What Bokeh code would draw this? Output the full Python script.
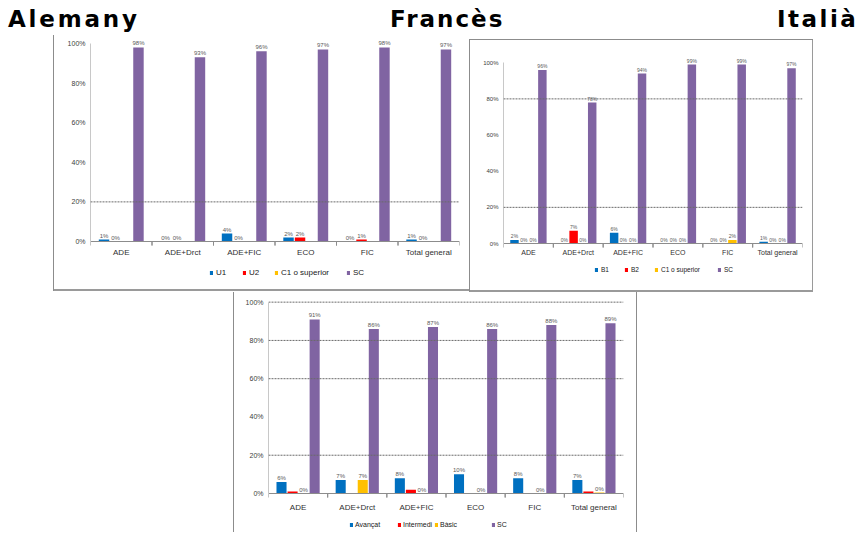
import numpy as np
from bokeh.plotting import figure
from bokeh.models import (FactorRange, ColumnDataSource, Span, Legend, LegendItem,
                          FixedTicker, PrintfTickFormatter, Div, Spacer)
from bokeh.layouts import column, row
from bokeh.transform import dodge
from bokeh.embed import file_html
from bokeh.resources import INLINE
from bokeh.core.properties import value

# ---------------- data ----------------
CATEGORIES = ["ADE", "ADE+Drct", "ADE+FIC", "ECO", "FIC", "Total general"]
Y_TICKS = [0, 20, 40, 60, 80, 100]
TITLES = ["Alemany", "Francès", "Italià"]

ALE_SERIES = ["U1", "U2", "C1 o superior", "SC"]
ALE_U1 = [1, 0, 4, 2, 0, 1]
ALE_U2 = [0, 0, 0, 2, 1, 0]
ALE_C1 = [None, None, None, None, None, None]
ALE_SC = [98, 93, 96, 97, 98, 97]

FRA_SERIES = ["B1", "B2", "C1 o superior", "SC"]
FRA_B1 = [2, 0, 6, 0, 0, 1]
FRA_B2 = [0, 7, 0, 0, 0, 0]
FRA_C1 = [0, 0, 0, 0, 2, 0]
FRA_SC = [96, 78, 94, 99, 99, 97]

ITA_SERIES = ["Avançat", "Intermedi", "Bàsic", "SC"]
ITA_AVANCAT = [6, 7, 8, 10, 8, 7]
ITA_INTERMEDI = [1, None, 2, None, None, 1]
ITA_BASIC = [0, 7, 0, 0, 0, 0.5]
ITA_SC = [91, 86, 87, 86, 88, 89]

# ---------------- style ----------------
COLORS = ["#0070C0", "#FF0000", "#FFC000", "#8064A2"]
OFFSETS = [-0.28, -0.093, 0.093, 0.28]
FONT = "Liberation Sans"


def make_chart(names, series, labeled, grid_vals, w, h, borders, y_end, below_px,
               xfs, yfs, dfs, x_standoff, leg, shadow):
    # the frame reaches the figure bottom; the zero line sits below_px above it
    bl, br, bt = borders
    frame_h = h - bt
    y_start = -below_px * y_end / (frame_h - below_px)
    px_per_unit = frame_h / (y_end - y_start)
    p = figure(x_range=FactorRange(*CATEGORIES), y_range=(y_start, y_end),
               width=w, height=h, output_backend="svg", toolbar_location=None,
               title=None, min_border_left=bl, min_border_right=br,
               min_border_top=bt, min_border_bottom=0,
               styles={"box-shadow": shadow})
    p.border_fill_color = None
    p.background_fill_color = None
    p.outline_line_color = None
    p.xgrid.grid_line_color = None
    p.ygrid.grid_line_color = None

    for g in grid_vals:
        p.add_layout(Span(location=g, dimension="width", line_color="#6a6a6a",
                          line_dash="2 1", line_width=1))

    # category-boundary tick marks below the x axis (Excel style)
    tick_len = 4 / px_per_unit
    tsrc = ColumnDataSource(dict(cat=CATEGORIES))
    for off in (-0.5, 0.5):
        p.segment(x0=dodge("cat", off, range=p.x_range), y0=0,
                  x1=dodge("cat", off, range=p.x_range), y1=-tick_len,
                  source=tsrc, line_color="#8c8c8c", line_width=1)

    renderers = []
    for name, vals, off, col, lab in zip(names, series, OFFSETS, COLORS, labeled):
        tops = np.array([np.nan if v is None else v for v in vals], dtype=float)
        texts = ["" if (v is None or not lab) else f"{v:.0f}%" for v in vals]
        ly = [0 if v is None else v for v in vals]
        src = ColumnDataSource(dict(cat=CATEGORIES, top=tops, text=texts, ly=ly))
        r = p.vbar(x=dodge("cat", off, range=p.x_range), top="top", width=0.17,
                   source=src, fill_color=col, line_color=None)
        p.text(x=dodge("cat", off, range=p.x_range), y="ly", text="text", source=src,
               text_align="center", text_baseline="bottom", y_offset=-1,
               text_font_size=dfs, text_color="#595959", text_font=value(FONT))
        renderers.append(r)

    ya = p.yaxis[0]
    ya.ticker = FixedTicker(ticks=Y_TICKS)
    ya.formatter = PrintfTickFormatter(format="%d%%")
    ya.bounds = (0, 100)
    ya.major_label_text_font_size = yfs
    ya.major_label_text_font = FONT
    ya.major_label_text_color = "#404040"
    ya.axis_line_color = "#c8c8c8"
    ya.major_tick_line_color = None
    ya.minor_tick_line_color = None
    ya.major_tick_out = 0
    ya.major_tick_in = 0
    ya.minor_tick_out = 0
    ya.major_label_standoff = 5

    xa = p.xaxis[0]
    xa.fixed_location = 0
    xa.major_label_text_font_size = xfs
    xa.major_label_text_font = FONT
    xa.major_label_text_color = "#303030"
    xa.axis_line_color = "#8c8c8c"
    xa.major_tick_line_color = None
    xa.major_tick_out = 0
    xa.major_tick_in = 0
    xa.major_label_standoff = x_standoff

    lfs, standoff, marks, frame_left, frame_bottom = leg
    for name, r, (mx, my) in zip(names, renderers, marks):
        legend = Legend(items=[LegendItem(label=name, renderers=[r])],
                        location=(mx - frame_left, frame_bottom - (my + 5)),
                        orientation="horizontal", padding=0, margin=0, spacing=0,
                        glyph_width=4, glyph_height=5, label_height=10,
                        label_standoff=standoff, label_text_font_size=lfs,
                        label_text_font=FONT, label_text_color="#202020",
                        border_line_color=None, background_fill_alpha=0)
        p.add_layout(legend)
    return p


# Alemany: figure at x 53..469, y 35..291 (frame left 90, zero line at 241)
p_ale = make_chart(ALE_SERIES, [ALE_U1, ALE_U2, ALE_C1, ALE_SC],
                   [True, True, True, True], [20],
                   416, 256, (37, 10, 2), 103, 50,
                   "8px", "7px", "6px", 6,
                   ("8px", 3, [(209, 272), (242, 272), (274, 272), (346, 272)], 90, 291),
                   "inset 1px 0 0 #8c8c8c, inset 0 -2px 0 #9a9a9a")

# Francès: figure at x 469..813, y 39..292 (frame left 503, zero line at 243)
p_fra = make_chart(FRA_SERIES, [FRA_B1, FRA_B2, FRA_C1, FRA_SC],
                   [True, True, True, True], [80, 20],
                   344, 253, (34, 11, 16), 104, 49,
                   "7px", "6px", "5px", 5,
                   ("6.5px", 3, [(594, 269), (624, 269), (654, 269), (717, 269)], 503, 292),
                   "inset 1px 1px 0 #8c8c8c, inset -1px -2px 0 #9a9a9a")

# Italià: figure at x 233..637, y 292..532 (frame left 268, zero line at 493)
p_ita = make_chart(ITA_SERIES, [ITA_AVANCAT, ITA_INTERMEDI, ITA_BASIC, ITA_SC],
                   [True, False, True, True], [100, 80, 60, 20],
                   404, 240, (35, 14, 2), 104, 39,
                   "8px", "7px", "6px", 9,
                   ("7px", 2, [(349, 524), (397, 524), (434, 524), (491, 524)], 268, 532),
                   "inset 1px 0 0 #8c8c8c, inset -1px 0 0 #8c8c8c")

title_html = (
    '<div style="position:relative;width:841px;height:25px;'
    "font-family:'DejaVu Sans';font-weight:bold;font-size:23px;"
    'color:#000;line-height:23px;white-space:nowrap;">'
    f'<span style="position:absolute;left:3px;top:3px;letter-spacing:2.8px;">{TITLES[0]}</span>'
    f'<span style="position:absolute;left:385px;top:3px;letter-spacing:2px;">{TITLES[1]}</span>'
    f'<span style="position:absolute;left:772px;top:3px;letter-spacing:2.5px;">{TITLES[2]}</span>'
    '</div>'
)
title_div = Div(text=title_html, width=841, height=25, styles={"overflow": "visible"})

layout = column(
    title_div,
    row(Spacer(width=53, height=257), p_ale,
        column(Spacer(width=344, height=4), p_fra)),
    row(Spacer(width=233, height=240), p_ita),
)

open("out.html", "w").write(file_html(layout, INLINE))
